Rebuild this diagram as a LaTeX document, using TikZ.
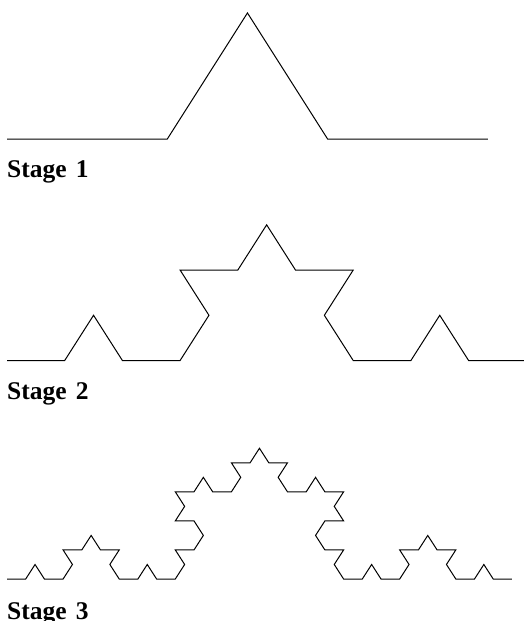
\documentclass[tikz,border=0pt]{standalone}
\usepackage{fontspec}
\setmainfont{Liberation Serif}
\begin{document}
\begin{tikzpicture}[x=1pt,y=-1pt,
  curve/.style={draw=black,line width=1pt,line join=miter},
  stagelabel/.style={anchor=base west,inner sep=0pt,font=\fontsize{25.5}{26}\selectfont\bfseries}]
\useasboundingbox (0,0) rectangle (524,621);

% Stage 1
\begin{scope}[shift={(7,139)},yscale=0.908]
  \coordinate (s1) at (0,0);
  \draw[curve] (s1) \foreach \a in {0,60,-60,0} { -- ++(\a:160.3pt) };
\end{scope}
\node[stagelabel] (l1) at (7,177.7) {Stage\hspace{0.36em}1};

% Stage 2
\begin{scope}[shift={(7,360.5)},yscale=0.905]
  \coordinate (s2) at (0,0);
  \draw[curve] (s2) \foreach \a in {0,60,-60,0, 60,120,0,60, -60,0,-120,-60, 0,60,-60,0} { -- ++(\a:57.7pt) };
\end{scope}
\node[stagelabel] (l2) at (7,399.3) {Stage\hspace{0.36em}2};

% Stage 3
\begin{scope}[shift={(7,579)},yscale=0.897]
  \coordinate (s3) at (0,0);
  \draw[curve] (s3) \foreach \a in {
    0,60,-60,0, 60,120,0,60, -60,0,-120,-60, 0,60,-60,0,
    60,120,0,60, 120,180,60,120, 0,60,-60,0, 60,120,0,60,
    -60,0,-120,-60, 0,60,-60,0, -120,-60,-180,-120, -60,0,-120,-60,
    0,60,-60,0, 60,120,0,60, -60,0,-120,-60, 0,60,-60,0} { -- ++(\a:18.7pt) };
\end{scope}
\node[stagelabel] (l3) at (7,619.4) {Stage\hspace{0.36em}3};
\end{tikzpicture}
\end{document}
